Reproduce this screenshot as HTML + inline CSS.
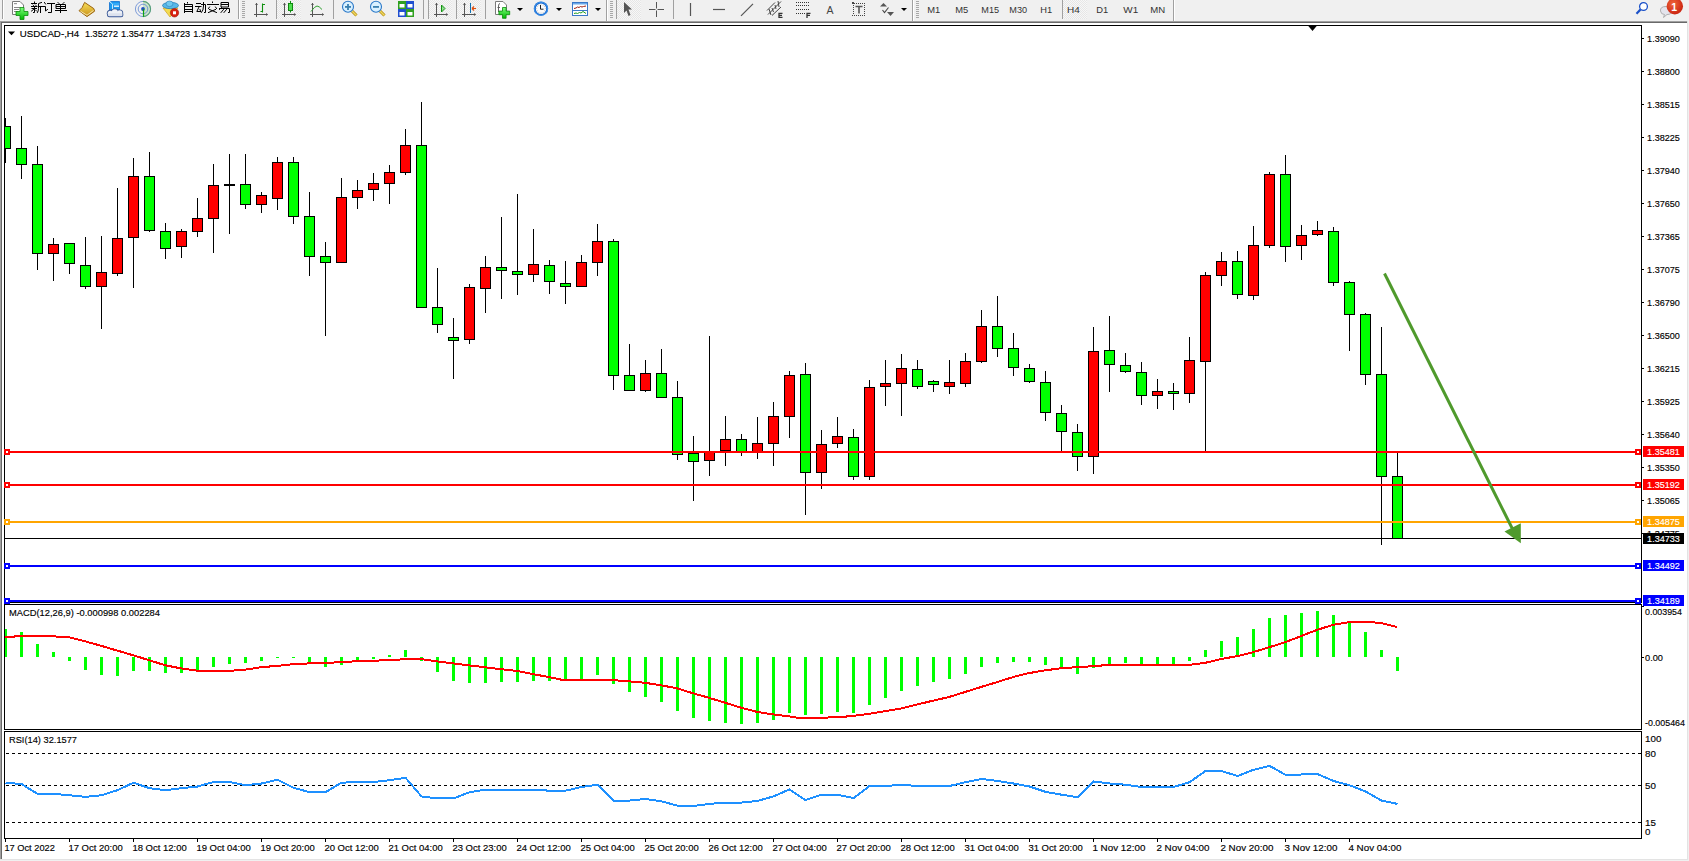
<!DOCTYPE html>
<html><head><meta charset="utf-8"><style>html,body{margin:0;padding:0;background:#f0f0f0;overflow:hidden}</style></head>
<body><svg width="1689" height="861" viewBox="0 0 1689 861" font-family="Liberation Sans, sans-serif" style="display:block">
<rect x="0" y="0" width="1689" height="861" fill="#f0f0f0"/>
<rect x="0" y="21" width="1688" height="839" fill="#ffffff"/>
<rect x="0" y="21" width="1688" height="1" fill="#a0a0a0"/>
<rect x="1" y="22" width="1686" height="1" fill="#696969"/>
<rect x="0" y="21" width="1" height="838" fill="#a0a0a0"/>
<rect x="1" y="22" width="1" height="837" fill="#696969"/>
<rect x="1687" y="21" width="1" height="839" fill="#e3e3e3"/>
<rect x="0" y="859" width="1688" height="1" fill="#e3e3e3"/>
<defs><pattern id="chk" width="2" height="2" patternUnits="userSpaceOnUse"><rect width="2" height="2" fill="#f7f7f7"/><rect width="1" height="1" fill="#e6e6e6"/><rect x="1" y="1" width="1" height="1" fill="#e6e6e6"/></pattern><linearGradient id="gold" x1="0" y1="0" x2="0" y2="1"><stop offset="0" stop-color="#f8df5a"/><stop offset="1" stop-color="#c8901a"/></linearGradient><linearGradient id="grn" x1="0" y1="0" x2="0" y2="1"><stop offset="0" stop-color="#7dff7d"/><stop offset="1" stop-color="#00b800"/></linearGradient><radialGradient id="badge" cx="0.4" cy="0.35" r="0.7"><stop offset="0" stop-color="#f0663a"/><stop offset="1" stop-color="#c8200e"/></radialGradient></defs>
<rect x="2" y="0" width="1" height="19" fill="#a0a0a0"/>
<rect x="3" y="0" width="1" height="19" fill="#ffffff"/>
<path d="M12.5,1.5 H20 L23.5,5 V14.5 H12.5 Z" fill="#fff" stroke="#7a7a7a" stroke-width="1"/>
<rect x="14" y="3" width="3" height="1.2" fill="#999"/><rect x="14" y="7" width="6" height="1" fill="#888"/><rect x="14" y="9" width="5" height="1" fill="#888"/><rect x="14" y="11" width="4" height="1" fill="#888"/>
<path d="M20,7.5 h4 v4 h4 v4 h-4 v4 h-4 v-4 h-4 v-4 h4 z" fill="url(#grn)" stroke="#0a8a0a" stroke-width="0.8"/>
<path d="M34.5,2 V2.5 M31.5,3.5 H36.5 M33,5 L33.5,5.5 M35.5,5 L36,5.5 M31.5,6.5 H37 M32,8.5 H36.5 M34.5,6.5 V12.5 L33.5,12.5 M33.5,9.5 L31.5,11 M35.5,10 L36.5,11 M41.5,2.5 L38.5,3.5 V8.5 Q38.5,11 37.5,12.5 M38.5,6.5 H42.5 M40.5,6.5 V12.5" fill="none" stroke="#000" stroke-width="1" stroke-linecap="square"/>
<path d="M44.5,2.5 L45.5,4 M43.5,6.5 H45.5 V11 L47.5,9.5 M47.5,3.5 H54.5 M51.5,3.5 V12.5 H48.5" fill="none" stroke="#000" stroke-width="1" stroke-linecap="square"/>
<path d="M58,2.5 L59,3.5 M64,2.5 L63,3.5 M56.5,4.5 H65.5 V8.5 H56.5 Z M56.5,6.5 H65.5 M60.5,4.5 V12.5 M55.5,10.5 H66.5" fill="none" stroke="#000" stroke-width="1" stroke-linecap="square"/>
<path d="M84.6,2.4 L93.8,8.6 L94.6,11.2 L87,16.6 L79,10.7 Q82.5,8.5 84.6,2.4 Z" fill="url(#gold)" stroke="#9a6410" stroke-width="1"/>
<path d="M80.5,11.2 L87,15.2 L93.5,10.5" fill="none" stroke="#f4e4a8" stroke-width="1"/>
<path d="M109.5,2.5 L111,1.5 H119.5 V10 H109.5 Z" fill="#1a9af0" stroke="#1070d0" stroke-width="0.8"/>
<path d="M110,2 L112.5,4 V10" fill="none" stroke="#d8f0ff" stroke-width="0.9"/><path d="M112.5,4 H119.5" stroke="#60c0ff" stroke-width="0.8"/>
<rect x="114" y="5.5" width="5" height="1.4" fill="#e8f6ff"/>
<circle cx="110.3" cy="13.3" r="3.5" fill="#3c5a98"/>
<circle cx="114.8" cy="12.4" r="4.0" fill="#3c5a98"/>
<circle cx="119.6" cy="13.0" r="3.6" fill="#3c5a98"/>
<rect x="107.1" y="12.6" width="16.3" height="4.6" rx="2.2" fill="#3c5a98"/>
<circle cx="110.3" cy="13.3" r="2.6" fill="#eef1f7"/>
<circle cx="114.8" cy="12.4" r="3.1" fill="#eef1f7"/>
<circle cx="119.6" cy="13.0" r="2.7" fill="#eef1f7"/>
<rect x="108" y="13.3" width="14.5" height="3" rx="1.4" fill="#dde2ee"/>
<path d="M143,9 V17 A8,8 0 0 0 151,9 A8,8 0 0 0 143,1 Z" fill="#9ad09a" opacity="0.45"/>
<circle cx="143" cy="9" r="7.6" fill="none" stroke="#5a82d0" stroke-width="1" opacity="0.75"/>
<circle cx="143" cy="9" r="4.8" fill="none" stroke="#4a78d0" stroke-width="1" opacity="0.7"/>
<path d="M143,1.4 A7.6,7.6 0 0 1 143,16.6" fill="none" stroke="#40a040" stroke-width="1.1" opacity="0.6"/>
<circle cx="143" cy="9" r="1.9" fill="#2050c0"/>
<path d="M143.5,9 V16.8" fill="none" stroke="#10a010" stroke-width="1.2"/>
<path d="M163,8 L170,17 L178,8 Z" fill="#f3dc50" stroke="#d0a020" stroke-width="0.7"/>
<ellipse cx="170.5" cy="5.5" rx="8" ry="3.2" fill="#58b8e8" stroke="#2a80b8" stroke-width="0.8"/>
<ellipse cx="169.5" cy="3.8" rx="3.5" ry="2.8" fill="#70c8f0" stroke="#2a80b8" stroke-width="0.6"/>
<circle cx="174.5" cy="12.8" r="4.2" fill="#d82010" stroke="#a01808" stroke-width="0.6"/>
<rect x="173" y="11.3" width="3" height="3" fill="#fff"/>
<path d="M187.5,2.5 V3 M184.5,4.5 H192.5 V12.5 M184.5,3.5 V12.5 M184.5,6.5 H192.5 M184.5,9.5 H192.5 M184.5,11.5 H192.5" fill="none" stroke="#000" stroke-width="1" stroke-linecap="square"/>
<path d="M196.5,3.5 H200.5 M195.5,6.5 H201 M199,7 L196.8,11.5 H200.5 M200,9.5 L200.5,11 M201.5,4.5 H205.5 V12.5 H204.5 M203.5,2.5 V6 Q203.5,10.5 201.5,12.5" fill="none" stroke="#000" stroke-width="1" stroke-linecap="square"/>
<path d="M212.5,2 V2.5 M207.5,4.5 H218.5 M209.5,7 L208.5,8.5 M215.5,7 L216.5,8.5 M209.5,9.5 L216.5,12.5 M215.5,9.5 L208.5,12.5" fill="none" stroke="#000" stroke-width="1" stroke-linecap="square"/>
<path d="M221.5,2.5 H228.5 V7 H221.5 Z M221.5,4.5 H228.5 M219.5,8.5 H229.5 V12.5 H228.5 M221.5,7.5 L219.5,9.5 M223.5,9.5 L221,12.5 M226.5,9.5 L224,12.5" fill="none" stroke="#000" stroke-width="1" stroke-linecap="square"/>
<rect x="238" y="0" width="1" height="19" fill="#a0a0a0"/>
<rect x="239" y="0" width="1" height="19" fill="#ffffff"/>
<rect x="242" y="1" width="3" height="1" fill="#a8a8a8"/>
<rect x="242" y="3" width="3" height="1" fill="#a8a8a8"/>
<rect x="242" y="5" width="3" height="1" fill="#a8a8a8"/>
<rect x="242" y="7" width="3" height="1" fill="#a8a8a8"/>
<rect x="242" y="9" width="3" height="1" fill="#a8a8a8"/>
<rect x="242" y="11" width="3" height="1" fill="#a8a8a8"/>
<rect x="242" y="13" width="3" height="1" fill="#a8a8a8"/>
<rect x="242" y="15" width="3" height="1" fill="#a8a8a8"/>
<rect x="242" y="17" width="3" height="1" fill="#a8a8a8"/>
<path d="M256.5,3 V17 M254,14.5 H267.5" stroke="#555" stroke-width="1" fill="none"/>
<polygon points="255,5 256.5,3 258,5" fill="#555"/>
<polygon points="266,13 268,14.5 266,16" fill="#555"/>
<path d="M260.5,11.5 H262.5 V4.5 H265" stroke="#109010" stroke-width="1.1" fill="none"/><path d="M262.5,3.5 V12.5" stroke="#109010" stroke-width="1"/>
<rect x="276" y="0" width="1" height="19" fill="#a0a0a0"/>
<rect x="277" y="0" width="1" height="19" fill="#ffffff"/>
<rect x="277" y="0" width="24" height="19" fill="url(#chk)"/>
<path d="M284.5,3 V17 M282,14.5 H295.5" stroke="#555" stroke-width="1" fill="none"/>
<polygon points="283,5 284.5,3 286,5" fill="#555"/>
<polygon points="294,13 296,14.5 294,16" fill="#555"/>
<path d="M290.5,1 V12.5" stroke="#109010" stroke-width="1"/><rect x="288.5" y="3.5" width="4" height="7" fill="#50e050" stroke="#108810" stroke-width="1"/>
<path d="M312.5,3 V17 M310,14.5 H323.5" stroke="#555" stroke-width="1" fill="none"/>
<polygon points="311,5 312.5,3 314,5" fill="#555"/>
<polygon points="322,13 324,14.5 322,16" fill="#555"/>
<path d="M311,11.5 Q315,6 317,6 Q319,6 322,9.5" stroke="#30a030" stroke-width="1" fill="none"/>
<rect x="333" y="0" width="1" height="19" fill="#a0a0a0"/>
<path d="M352,11 L356.5,15.5" stroke="#b08808" stroke-width="3"/><path d="M352,11 L356.5,15.5" stroke="#f0d860" stroke-width="1.6"/>
<circle cx="348" cy="6.8" r="5.5" fill="#d8f0ff" stroke="#2a78c8" stroke-width="1.1"/>
<rect x="345" y="6" width="6" height="1.8" fill="#3a80b0"/>
<rect x="347.1" y="4" width="1.8" height="6" fill="#3a80b0"/>
<path d="M380,11 L384.5,15.5" stroke="#b08808" stroke-width="3"/><path d="M380,11 L384.5,15.5" stroke="#f0d860" stroke-width="1.6"/>
<circle cx="376" cy="6.8" r="5.5" fill="#d8f0ff" stroke="#2a78c8" stroke-width="1.1"/>
<rect x="373" y="6" width="6" height="1.8" fill="#3a80b0"/>
<rect x="398" y="1" width="8" height="8" fill="#30a020"/>
<rect x="399.5" y="4" width="5" height="3.5" fill="#fff"/>
<rect x="406" y="1" width="8" height="8" fill="#2050d0"/>
<rect x="407.5" y="4" width="5" height="3.5" fill="#fff"/>
<rect x="398" y="9" width="8" height="8" fill="#2050d0"/>
<rect x="399.5" y="12" width="5" height="3.5" fill="#fff"/>
<rect x="406" y="9" width="8" height="8" fill="#30a020"/>
<rect x="407.5" y="12" width="5" height="3.5" fill="#fff"/>
<rect x="423" y="0" width="1" height="19" fill="#a0a0a0"/>
<rect x="428" y="0" width="1" height="19" fill="#a0a0a0"/>
<rect x="429" y="0" width="23" height="19" fill="url(#chk)"/>
<path d="M436.5,3 V17 M434,14.5 H447.5" stroke="#555" stroke-width="1" fill="none"/>
<polygon points="435,5 436.5,3 438,5" fill="#555"/>
<polygon points="446,13 448,14.5 446,16" fill="#555"/>
<polygon points="441.5,5 445,8.5 441.5,12" fill="#90e090" stroke="#109010" stroke-width="1"/>
<rect x="456" y="0" width="1" height="19" fill="#a0a0a0"/>
<rect x="457" y="0" width="24" height="19" fill="url(#chk)"/>
<path d="M464.5,3 V17 M462,14.5 H475.5" stroke="#555" stroke-width="1" fill="none"/>
<polygon points="463,5 464.5,3 466,5" fill="#555"/>
<polygon points="474,13 476,14.5 474,16" fill="#555"/>
<path d="M470.5,3 V13" stroke="#1070b0" stroke-width="1"/><path d="M472,8.5 H476 M472,8.5 L474,6.5 M472,8.5 L474,10.5" stroke="#e05010" stroke-width="1.2"/>
<rect x="485" y="0" width="1" height="19" fill="#a0a0a0"/>
<path d="M495.5,1.5 H503 L506.5,5 V14.5 H495.5 Z" fill="#fff" stroke="#7a7a7a" stroke-width="1"/>
<path d="M500,3.5 Q498.5,3.5 498.5,6 V12 M497.5,7.5 H500" stroke="#555" stroke-width="0.9" fill="none"/>
<path d="M502.5,7.5 h3.6 v3.6 h3.6 v3.6 h-3.6 v3.6 h-3.6 v-3.6 h-3.6 v-3.6 h3.6 z" fill="url(#grn)" stroke="#0a8a0a" stroke-width="0.8"/>
<polygon points="517,8 523,8 520,11" fill="#000"/>
<circle cx="541" cy="8.7" r="7.2" fill="#1a6ad0"/><circle cx="541" cy="8.7" r="6.6" fill="none" stroke="#4aa0f0" stroke-width="0.8"/><circle cx="541" cy="8.7" r="5.2" fill="#fafafa"/>
<circle cx="545.20" cy="8.70" r="0.35" fill="#777"/><circle cx="544.64" cy="10.80" r="0.35" fill="#777"/><circle cx="543.10" cy="12.34" r="0.35" fill="#777"/><circle cx="541.00" cy="12.90" r="0.35" fill="#777"/><circle cx="538.90" cy="12.34" r="0.35" fill="#777"/><circle cx="537.36" cy="10.80" r="0.35" fill="#777"/><circle cx="536.80" cy="8.70" r="0.35" fill="#777"/><circle cx="537.36" cy="6.60" r="0.35" fill="#777"/><circle cx="538.90" cy="5.06" r="0.35" fill="#777"/><circle cx="541.00" cy="4.50" r="0.35" fill="#777"/><circle cx="543.10" cy="5.06" r="0.35" fill="#777"/><circle cx="544.64" cy="6.60" r="0.35" fill="#777"/>
<path d="M540.5,5 V9.2 H543.5" stroke="#222" stroke-width="1" fill="none"/>
<polygon points="556,8 562,8 559,11" fill="#000"/>
<rect x="572.5" y="2.5" width="15" height="13" fill="#fff" stroke="#3a78c8" stroke-width="1"/><rect x="573" y="3" width="14" height="1.5" fill="#6aa8e8"/><rect x="573" y="10" width="14" height="1" fill="#3a78c8"/>
<path d="M574,8.5 L576,8 L577.5,7 L579,7.5 L580.5,6.5 L582,7 L583.5,6.5 L586,6" stroke="#a02010" stroke-width="1" fill="none"/><path d="M574,13.5 L576,13 L577.5,13.5 L579.5,12.5 L581,13 L583,11.5 L586,13.5" stroke="#20a020" stroke-width="1" fill="none"/>
<polygon points="595,8 601,8 598,11" fill="#000"/>
<rect x="606" y="0" width="1" height="21" fill="#a0a0a0"/><rect x="607" y="0" width="1" height="21" fill="#fff"/>
<rect x="610" y="1" width="3" height="1" fill="#a8a8a8"/>
<rect x="610" y="3" width="3" height="1" fill="#a8a8a8"/>
<rect x="610" y="5" width="3" height="1" fill="#a8a8a8"/>
<rect x="610" y="7" width="3" height="1" fill="#a8a8a8"/>
<rect x="610" y="9" width="3" height="1" fill="#a8a8a8"/>
<rect x="610" y="11" width="3" height="1" fill="#a8a8a8"/>
<rect x="610" y="13" width="3" height="1" fill="#a8a8a8"/>
<rect x="610" y="15" width="3" height="1" fill="#a8a8a8"/>
<rect x="610" y="17" width="3" height="1" fill="#a8a8a8"/>
<rect x="616" y="0" width="1" height="19" fill="#a0a0a0"/>
<rect x="617" y="0" width="24" height="19" fill="url(#chk)"/>
<polygon points="624,2 632,9.5 628.5,9.5 630.5,15 628.5,16 626.5,10.5 624,13" fill="#555"/>
<path d="M656.5,2 V8.5 M656.5,10.5 V17 M649,9.5 H655.5 M657.5,9.5 H664" stroke="#555" stroke-width="1"/>
<rect x="673" y="0" width="1" height="19" fill="#a0a0a0"/>
<path d="M690.5,3 V16" stroke="#555" stroke-width="1.2"/><path d="M713,9.5 H725" stroke="#555" stroke-width="1.2"/><path d="M741,15.8 L753,3.8" stroke="#555" stroke-width="1.2"/>
<path d="M767,10.5 L775,2.5 M768,14.5 L781,1.5 M772,15.5 L781,7" stroke="#444" stroke-width="1"/><path d="M769,9 L771,15 M772,8 L773.5,12 M775,5 L776,9 M778,1 L779,7" stroke="#444" stroke-width="1"/>
<path d="M782.5,13.3 H779 V17.3 H782.5 M779,15.3 H782" stroke="#333" stroke-width="1.3" fill="none"/>
<path d="M796,2.5 H809" stroke="#333" stroke-width="1" stroke-dasharray="1,1"/>
<path d="M796,5.5 H809" stroke="#333" stroke-width="1" stroke-dasharray="1,1"/>
<path d="M796,9.5 H809" stroke="#333" stroke-width="1" stroke-dasharray="1,1"/>
<path d="M796,13.5 H805" stroke="#333" stroke-width="1" stroke-dasharray="1,1"/>
<path d="M810.5,13.3 H807 V18 M807,15.3 H810" stroke="#333" stroke-width="1.3" fill="none"/>
<text x="826.5" y="14" font-size="10.5" fill="#444">A</text>
<rect x="852" y="3" width="1" height="1" fill="#444"/><rect x="852" y="15" width="1" height="1" fill="#444"/><rect x="854" y="3" width="1" height="1" fill="#444"/><rect x="854" y="15" width="1" height="1" fill="#444"/><rect x="856" y="3" width="1" height="1" fill="#444"/><rect x="856" y="15" width="1" height="1" fill="#444"/><rect x="858" y="3" width="1" height="1" fill="#444"/><rect x="858" y="15" width="1" height="1" fill="#444"/><rect x="860" y="3" width="1" height="1" fill="#444"/><rect x="860" y="15" width="1" height="1" fill="#444"/><rect x="862" y="3" width="1" height="1" fill="#444"/><rect x="862" y="15" width="1" height="1" fill="#444"/><rect x="864" y="3" width="1" height="1" fill="#444"/><rect x="864" y="15" width="1" height="1" fill="#444"/><rect x="853" y="5" width="1" height="1" fill="#444"/><rect x="864" y="5" width="1" height="1" fill="#444"/><rect x="853" y="7" width="1" height="1" fill="#444"/><rect x="864" y="7" width="1" height="1" fill="#444"/><rect x="853" y="9" width="1" height="1" fill="#444"/><rect x="864" y="9" width="1" height="1" fill="#444"/><rect x="853" y="11" width="1" height="1" fill="#444"/><rect x="864" y="11" width="1" height="1" fill="#444"/><rect x="853" y="13" width="1" height="1" fill="#444"/><rect x="864" y="13" width="1" height="1" fill="#444"/><rect x="852" y="2" width="2" height="2" fill="#444"/>
<path d="M855.5,6.5 H862.5 M859,6.5 V13.5" stroke="#555" stroke-width="1.6"/>
<polygon points="880,6.5 883.5,3 887,6.5" fill="#555"/><polygon points="887,12 890.5,16 894,12" fill="#555"/><path d="M882.5,10 L884.5,12.5 L888.5,7.5" stroke="#444" stroke-width="1.1" fill="none"/>
<polygon points="901,8 907,8 904,11" fill="#000"/>
<rect x="912" y="0" width="1" height="21" fill="#a0a0a0"/><rect x="913" y="0" width="1" height="21" fill="#fff"/>
<rect x="916" y="1" width="3" height="1" fill="#a8a8a8"/>
<rect x="916" y="3" width="3" height="1" fill="#a8a8a8"/>
<rect x="916" y="5" width="3" height="1" fill="#a8a8a8"/>
<rect x="916" y="7" width="3" height="1" fill="#a8a8a8"/>
<rect x="916" y="9" width="3" height="1" fill="#a8a8a8"/>
<rect x="916" y="11" width="3" height="1" fill="#a8a8a8"/>
<rect x="916" y="13" width="3" height="1" fill="#a8a8a8"/>
<rect x="916" y="15" width="3" height="1" fill="#a8a8a8"/>
<rect x="916" y="17" width="3" height="1" fill="#a8a8a8"/>
<rect x="1062" y="0" width="1" height="19" fill="#a0a0a0"/>
<rect x="1063" y="0" width="24" height="19" fill="url(#chk)"/>
<text x="927.2" y="13" font-size="9.4" fill="#333" textLength="13.0" lengthAdjust="spacingAndGlyphs">M1</text>
<text x="955.2" y="13" font-size="9.4" fill="#333" textLength="13.0" lengthAdjust="spacingAndGlyphs">M5</text>
<text x="981.3" y="13" font-size="9.4" fill="#333" textLength="17.8" lengthAdjust="spacingAndGlyphs">M15</text>
<text x="1009.3" y="13" font-size="9.4" fill="#333" textLength="17.8" lengthAdjust="spacingAndGlyphs">M30</text>
<text x="1040.2" y="13" font-size="9.4" fill="#333" textLength="11.9" lengthAdjust="spacingAndGlyphs">H1</text>
<text x="1067.1" y="13" font-size="9.4" fill="#333" textLength="12.8" lengthAdjust="spacingAndGlyphs">H4</text>
<text x="1096.2" y="13" font-size="9.4" fill="#333" textLength="11.9" lengthAdjust="spacingAndGlyphs">D1</text>
<text x="1123.3" y="13" font-size="9.4" fill="#333" textLength="14.9" lengthAdjust="spacingAndGlyphs">W1</text>
<text x="1150.2" y="13" font-size="9.4" fill="#333" textLength="14.9" lengthAdjust="spacingAndGlyphs">MN</text>
<rect x="1173" y="0" width="1" height="21" fill="#a0a0a0"/><rect x="1174" y="0" width="1" height="21" fill="#fff"/>
<circle cx="1643.5" cy="6.5" r="3.9" fill="#fff" stroke="#1a50c8" stroke-width="1.3"/><path d="M1640.5,9.5 L1636.5,13.8" stroke="#1a50c8" stroke-width="2.2"/>
<path d="M1666,6.5 Q1660,6.5 1660.5,11 Q1661,14.5 1664.5,14.5 L1663.5,17.5 L1667,14.5 Q1672,14.5 1672,10.5 Z" fill="#e4e4ec" stroke="#a8a8a8" stroke-width="0.9"/>
<circle cx="1674.8" cy="6.3" r="8.2" fill="url(#badge)"/>
<text x="1671.3" y="10.5" font-size="10.5" fill="#fff" font-weight="bold">1</text>
<rect x="4" y="25" width="1638" height="1" fill="#000"/>
<rect x="4" y="25" width="1" height="578" fill="#000"/>
<rect x="1641" y="25" width="1" height="578" fill="#000"/>
<rect x="4" y="602" width="1638" height="1" fill="#000"/>
<rect x="4" y="604" width="1638" height="1" fill="#000"/>
<rect x="4" y="604" width="1" height="126" fill="#000"/>
<rect x="1641" y="604" width="1" height="126" fill="#000"/>
<rect x="4" y="729" width="1638" height="1" fill="#000"/>
<rect x="4" y="731" width="1638" height="1" fill="#000"/>
<rect x="4" y="731" width="1" height="108" fill="#000"/>
<rect x="1641" y="731" width="1" height="108" fill="#000"/>
<rect x="4" y="838" width="1638" height="1" fill="#000"/>
<defs><clipPath id="cm"><rect x="5" y="26" width="1636" height="576"/></clipPath><clipPath id="cmacd"><rect x="5" y="605" width="1636" height="124"/></clipPath><clipPath id="crsi"><rect x="5" y="732" width="1636" height="106"/></clipPath></defs>
<g clip-path="url(#cm)">
<rect x="5" y="118" width="1" height="45" fill="#000"/>
<rect x="0.5" y="126.5" width="10" height="22" fill="#00ff00" stroke="#000" stroke-width="1"/>
<rect x="21" y="116" width="1" height="63" fill="#000"/>
<rect x="16.5" y="148.5" width="10" height="16" fill="#00ff00" stroke="#000" stroke-width="1"/>
<rect x="37" y="146" width="1" height="124" fill="#000"/>
<rect x="32.5" y="164.5" width="10" height="89" fill="#00ff00" stroke="#000" stroke-width="1"/>
<rect x="53" y="238" width="1" height="43" fill="#000"/>
<rect x="48.5" y="244.5" width="10" height="9" fill="#ff0000" stroke="#000" stroke-width="1"/>
<rect x="69" y="243" width="1" height="31" fill="#000"/>
<rect x="64.5" y="243.5" width="10" height="20" fill="#00ff00" stroke="#000" stroke-width="1"/>
<rect x="85" y="237" width="1" height="52" fill="#000"/>
<rect x="80.5" y="265.5" width="10" height="21" fill="#00ff00" stroke="#000" stroke-width="1"/>
<rect x="101" y="236" width="1" height="93" fill="#000"/>
<rect x="96.5" y="272.5" width="10" height="14" fill="#ff0000" stroke="#000" stroke-width="1"/>
<rect x="117" y="188" width="1" height="88" fill="#000"/>
<rect x="112.5" y="238.5" width="10" height="35" fill="#ff0000" stroke="#000" stroke-width="1"/>
<rect x="133" y="158" width="1" height="130" fill="#000"/>
<rect x="128.5" y="176.5" width="10" height="61" fill="#ff0000" stroke="#000" stroke-width="1"/>
<rect x="149" y="152" width="1" height="80" fill="#000"/>
<rect x="144.5" y="176.5" width="10" height="54" fill="#00ff00" stroke="#000" stroke-width="1"/>
<rect x="165" y="223" width="1" height="36" fill="#000"/>
<rect x="160.5" y="231.5" width="10" height="17" fill="#00ff00" stroke="#000" stroke-width="1"/>
<rect x="181" y="229" width="1" height="29" fill="#000"/>
<rect x="176.5" y="231.5" width="10" height="15" fill="#ff0000" stroke="#000" stroke-width="1"/>
<rect x="197" y="198" width="1" height="39" fill="#000"/>
<rect x="192.5" y="218.5" width="10" height="13" fill="#ff0000" stroke="#000" stroke-width="1"/>
<rect x="213" y="164" width="1" height="89" fill="#000"/>
<rect x="208.5" y="185.5" width="10" height="33" fill="#ff0000" stroke="#000" stroke-width="1"/>
<rect x="229" y="154" width="1" height="80" fill="#000"/>
<rect x="224" y="184" width="11" height="2" fill="#000"/>
<rect x="245" y="154" width="1" height="55" fill="#000"/>
<rect x="240.5" y="184.5" width="10" height="20" fill="#00ff00" stroke="#000" stroke-width="1"/>
<rect x="261" y="192" width="1" height="21" fill="#000"/>
<rect x="256.5" y="195.5" width="10" height="9" fill="#ff0000" stroke="#000" stroke-width="1"/>
<rect x="277" y="157" width="1" height="53" fill="#000"/>
<rect x="272.5" y="162.5" width="10" height="36" fill="#ff0000" stroke="#000" stroke-width="1"/>
<rect x="293" y="157" width="1" height="67" fill="#000"/>
<rect x="288.5" y="162.5" width="10" height="54" fill="#00ff00" stroke="#000" stroke-width="1"/>
<rect x="309" y="192" width="1" height="84" fill="#000"/>
<rect x="304.5" y="216.5" width="10" height="40" fill="#00ff00" stroke="#000" stroke-width="1"/>
<rect x="325" y="242" width="1" height="94" fill="#000"/>
<rect x="320.5" y="256.5" width="10" height="6" fill="#00ff00" stroke="#000" stroke-width="1"/>
<rect x="341" y="178" width="1" height="84" fill="#000"/>
<rect x="336.5" y="197.5" width="10" height="65" fill="#ff0000" stroke="#000" stroke-width="1"/>
<rect x="357" y="180" width="1" height="29" fill="#000"/>
<rect x="352.5" y="190.5" width="10" height="7" fill="#ff0000" stroke="#000" stroke-width="1"/>
<rect x="373" y="173" width="1" height="28" fill="#000"/>
<rect x="368.5" y="183.5" width="10" height="6" fill="#ff0000" stroke="#000" stroke-width="1"/>
<rect x="389" y="165" width="1" height="39" fill="#000"/>
<rect x="384.5" y="172.5" width="10" height="11" fill="#ff0000" stroke="#000" stroke-width="1"/>
<rect x="405" y="129" width="1" height="46" fill="#000"/>
<rect x="400.5" y="145.5" width="10" height="27" fill="#ff0000" stroke="#000" stroke-width="1"/>
<rect x="421" y="102" width="1" height="205" fill="#000"/>
<rect x="416.5" y="145.5" width="10" height="162" fill="#00ff00" stroke="#000" stroke-width="1"/>
<rect x="437" y="268" width="1" height="65" fill="#000"/>
<rect x="432.5" y="307.5" width="10" height="17" fill="#00ff00" stroke="#000" stroke-width="1"/>
<rect x="453" y="318" width="1" height="61" fill="#000"/>
<rect x="448.5" y="337.5" width="10" height="3" fill="#00ff00" stroke="#000" stroke-width="1"/>
<rect x="469" y="284" width="1" height="60" fill="#000"/>
<rect x="464.5" y="287.5" width="10" height="52" fill="#ff0000" stroke="#000" stroke-width="1"/>
<rect x="485" y="256" width="1" height="57" fill="#000"/>
<rect x="480.5" y="267.5" width="10" height="21" fill="#ff0000" stroke="#000" stroke-width="1"/>
<rect x="501" y="217" width="1" height="82" fill="#000"/>
<rect x="496.5" y="267.5" width="10" height="3" fill="#00ff00" stroke="#000" stroke-width="1"/>
<rect x="517" y="194" width="1" height="101" fill="#000"/>
<rect x="512.5" y="271.5" width="10" height="3" fill="#00ff00" stroke="#000" stroke-width="1"/>
<rect x="533" y="229" width="1" height="53" fill="#000"/>
<rect x="528.5" y="264.5" width="10" height="10" fill="#ff0000" stroke="#000" stroke-width="1"/>
<rect x="549" y="260" width="1" height="34" fill="#000"/>
<rect x="544.5" y="265.5" width="10" height="16" fill="#00ff00" stroke="#000" stroke-width="1"/>
<rect x="565" y="261" width="1" height="43" fill="#000"/>
<rect x="560.5" y="283.5" width="10" height="3" fill="#00ff00" stroke="#000" stroke-width="1"/>
<rect x="581" y="255" width="1" height="32" fill="#000"/>
<rect x="576.5" y="262.5" width="10" height="24" fill="#ff0000" stroke="#000" stroke-width="1"/>
<rect x="597" y="224" width="1" height="52" fill="#000"/>
<rect x="592.5" y="241.5" width="10" height="21" fill="#ff0000" stroke="#000" stroke-width="1"/>
<rect x="613" y="239" width="1" height="151" fill="#000"/>
<rect x="608.5" y="241.5" width="10" height="134" fill="#00ff00" stroke="#000" stroke-width="1"/>
<rect x="629" y="344" width="1" height="47" fill="#000"/>
<rect x="624.5" y="375.5" width="10" height="15" fill="#00ff00" stroke="#000" stroke-width="1"/>
<rect x="645" y="360" width="1" height="32" fill="#000"/>
<rect x="640.5" y="373.5" width="10" height="17" fill="#ff0000" stroke="#000" stroke-width="1"/>
<rect x="661" y="349" width="1" height="49" fill="#000"/>
<rect x="656.5" y="373.5" width="10" height="24" fill="#00ff00" stroke="#000" stroke-width="1"/>
<rect x="677" y="381" width="1" height="79" fill="#000"/>
<rect x="672.5" y="397.5" width="10" height="57" fill="#00ff00" stroke="#000" stroke-width="1"/>
<rect x="693" y="436" width="1" height="65" fill="#000"/>
<rect x="688.5" y="453.5" width="10" height="8" fill="#00ff00" stroke="#000" stroke-width="1"/>
<rect x="709" y="336" width="1" height="140" fill="#000"/>
<rect x="704.5" y="451.5" width="10" height="9" fill="#ff0000" stroke="#000" stroke-width="1"/>
<rect x="725" y="416" width="1" height="50" fill="#000"/>
<rect x="720.5" y="439.5" width="10" height="11" fill="#ff0000" stroke="#000" stroke-width="1"/>
<rect x="741" y="434" width="1" height="22" fill="#000"/>
<rect x="736.5" y="439.5" width="10" height="12" fill="#00ff00" stroke="#000" stroke-width="1"/>
<rect x="757" y="417" width="1" height="42" fill="#000"/>
<rect x="752.5" y="443.5" width="10" height="8" fill="#ff0000" stroke="#000" stroke-width="1"/>
<rect x="773" y="402" width="1" height="64" fill="#000"/>
<rect x="768.5" y="416.5" width="10" height="27" fill="#ff0000" stroke="#000" stroke-width="1"/>
<rect x="789" y="371" width="1" height="67" fill="#000"/>
<rect x="784.5" y="375.5" width="10" height="41" fill="#ff0000" stroke="#000" stroke-width="1"/>
<rect x="805" y="363" width="1" height="152" fill="#000"/>
<rect x="800.5" y="374.5" width="10" height="98" fill="#00ff00" stroke="#000" stroke-width="1"/>
<rect x="821" y="430" width="1" height="59" fill="#000"/>
<rect x="816.5" y="444.5" width="10" height="28" fill="#ff0000" stroke="#000" stroke-width="1"/>
<rect x="837" y="417" width="1" height="31" fill="#000"/>
<rect x="832.5" y="436.5" width="10" height="7" fill="#ff0000" stroke="#000" stroke-width="1"/>
<rect x="853" y="429" width="1" height="51" fill="#000"/>
<rect x="848.5" y="437.5" width="10" height="39" fill="#00ff00" stroke="#000" stroke-width="1"/>
<rect x="869" y="380" width="1" height="100" fill="#000"/>
<rect x="864.5" y="387.5" width="10" height="89" fill="#ff0000" stroke="#000" stroke-width="1"/>
<rect x="885" y="360" width="1" height="46" fill="#000"/>
<rect x="880.5" y="383.5" width="10" height="3" fill="#ff0000" stroke="#000" stroke-width="1"/>
<rect x="901" y="354" width="1" height="62" fill="#000"/>
<rect x="896.5" y="368.5" width="10" height="15" fill="#ff0000" stroke="#000" stroke-width="1"/>
<rect x="917" y="360" width="1" height="29" fill="#000"/>
<rect x="912.5" y="369.5" width="10" height="17" fill="#00ff00" stroke="#000" stroke-width="1"/>
<rect x="933" y="380" width="1" height="12" fill="#000"/>
<rect x="928.5" y="381.5" width="10" height="3" fill="#00ff00" stroke="#000" stroke-width="1"/>
<rect x="949" y="360" width="1" height="34" fill="#000"/>
<rect x="944.5" y="382.5" width="10" height="4" fill="#ff0000" stroke="#000" stroke-width="1"/>
<rect x="965" y="353" width="1" height="34" fill="#000"/>
<rect x="960.5" y="361.5" width="10" height="22" fill="#ff0000" stroke="#000" stroke-width="1"/>
<rect x="981" y="310" width="1" height="53" fill="#000"/>
<rect x="976.5" y="326.5" width="10" height="35" fill="#ff0000" stroke="#000" stroke-width="1"/>
<rect x="997" y="296" width="1" height="61" fill="#000"/>
<rect x="992.5" y="326.5" width="10" height="22" fill="#00ff00" stroke="#000" stroke-width="1"/>
<rect x="1013" y="333" width="1" height="43" fill="#000"/>
<rect x="1008.5" y="348.5" width="10" height="19" fill="#00ff00" stroke="#000" stroke-width="1"/>
<rect x="1029" y="364" width="1" height="19" fill="#000"/>
<rect x="1024.5" y="368.5" width="10" height="13" fill="#00ff00" stroke="#000" stroke-width="1"/>
<rect x="1045" y="371" width="1" height="50" fill="#000"/>
<rect x="1040.5" y="382.5" width="10" height="30" fill="#00ff00" stroke="#000" stroke-width="1"/>
<rect x="1061" y="405" width="1" height="46" fill="#000"/>
<rect x="1056.5" y="413.5" width="10" height="18" fill="#00ff00" stroke="#000" stroke-width="1"/>
<rect x="1077" y="424" width="1" height="47" fill="#000"/>
<rect x="1072.5" y="432.5" width="10" height="24" fill="#00ff00" stroke="#000" stroke-width="1"/>
<rect x="1093" y="327" width="1" height="147" fill="#000"/>
<rect x="1088.5" y="351.5" width="10" height="105" fill="#ff0000" stroke="#000" stroke-width="1"/>
<rect x="1109" y="316" width="1" height="76" fill="#000"/>
<rect x="1104.5" y="350.5" width="10" height="14" fill="#00ff00" stroke="#000" stroke-width="1"/>
<rect x="1125" y="353" width="1" height="20" fill="#000"/>
<rect x="1120.5" y="365.5" width="10" height="6" fill="#00ff00" stroke="#000" stroke-width="1"/>
<rect x="1141" y="362" width="1" height="43" fill="#000"/>
<rect x="1136.5" y="372.5" width="10" height="23" fill="#00ff00" stroke="#000" stroke-width="1"/>
<rect x="1157" y="379" width="1" height="30" fill="#000"/>
<rect x="1152.5" y="391.5" width="10" height="4" fill="#ff0000" stroke="#000" stroke-width="1"/>
<rect x="1173" y="383" width="1" height="27" fill="#000"/>
<rect x="1168.5" y="391.5" width="10" height="2" fill="#00ff00" stroke="#000" stroke-width="1"/>
<rect x="1189" y="337" width="1" height="66" fill="#000"/>
<rect x="1184.5" y="360.5" width="10" height="33" fill="#ff0000" stroke="#000" stroke-width="1"/>
<rect x="1205" y="272" width="1" height="181" fill="#000"/>
<rect x="1200.5" y="275.5" width="10" height="86" fill="#ff0000" stroke="#000" stroke-width="1"/>
<rect x="1221" y="252" width="1" height="34" fill="#000"/>
<rect x="1216.5" y="261.5" width="10" height="14" fill="#ff0000" stroke="#000" stroke-width="1"/>
<rect x="1237" y="251" width="1" height="48" fill="#000"/>
<rect x="1232.5" y="261.5" width="10" height="33" fill="#00ff00" stroke="#000" stroke-width="1"/>
<rect x="1253" y="226" width="1" height="74" fill="#000"/>
<rect x="1248.5" y="245.5" width="10" height="50" fill="#ff0000" stroke="#000" stroke-width="1"/>
<rect x="1269" y="172" width="1" height="76" fill="#000"/>
<rect x="1264.5" y="174.5" width="10" height="71" fill="#ff0000" stroke="#000" stroke-width="1"/>
<rect x="1285" y="155" width="1" height="107" fill="#000"/>
<rect x="1280.5" y="174.5" width="10" height="72" fill="#00ff00" stroke="#000" stroke-width="1"/>
<rect x="1301" y="225" width="1" height="35" fill="#000"/>
<rect x="1296.5" y="235.5" width="10" height="10" fill="#ff0000" stroke="#000" stroke-width="1"/>
<rect x="1317" y="221" width="1" height="15" fill="#000"/>
<rect x="1312.5" y="230.5" width="10" height="4" fill="#ff0000" stroke="#000" stroke-width="1"/>
<rect x="1333" y="227" width="1" height="59" fill="#000"/>
<rect x="1328.5" y="231.5" width="10" height="51" fill="#00ff00" stroke="#000" stroke-width="1"/>
<rect x="1349" y="281" width="1" height="70" fill="#000"/>
<rect x="1344.5" y="282.5" width="10" height="32" fill="#00ff00" stroke="#000" stroke-width="1"/>
<rect x="1365" y="313" width="1" height="72" fill="#000"/>
<rect x="1360.5" y="314.5" width="10" height="60" fill="#00ff00" stroke="#000" stroke-width="1"/>
<rect x="1381" y="327" width="1" height="218" fill="#000"/>
<rect x="1376.5" y="374.5" width="10" height="102" fill="#00ff00" stroke="#000" stroke-width="1"/>
<rect x="1397" y="453" width="1" height="86" fill="#000"/>
<rect x="1392.5" y="476.5" width="10" height="62" fill="#00ff00" stroke="#000" stroke-width="1"/>
</g>
<rect x="5" y="451" width="1636" height="2" fill="#ff0000"/>
<rect x="4" y="449" width="6" height="6" fill="#ff0000"/>
<rect x="6" y="451" width="2" height="2" fill="#fff"/>
<rect x="1635" y="449" width="6" height="6" fill="#ff0000"/>
<rect x="1637" y="451" width="2" height="2" fill="#fff"/>
<rect x="5" y="484" width="1636" height="2" fill="#ff0000"/>
<rect x="4" y="482" width="6" height="6" fill="#ff0000"/>
<rect x="6" y="484" width="2" height="2" fill="#fff"/>
<rect x="1635" y="482" width="6" height="6" fill="#ff0000"/>
<rect x="1637" y="484" width="2" height="2" fill="#fff"/>
<rect x="5" y="521" width="1636" height="2" fill="#ffa500"/>
<rect x="4" y="519" width="6" height="6" fill="#ffa500"/>
<rect x="6" y="521" width="2" height="2" fill="#fff"/>
<rect x="1635" y="519" width="6" height="6" fill="#ffa500"/>
<rect x="1637" y="521" width="2" height="2" fill="#fff"/>
<rect x="5" y="538" width="1636" height="1" fill="#000"/>
<rect x="5" y="565" width="1636" height="2" fill="#0000ff"/>
<rect x="4" y="563" width="6" height="6" fill="#0000ff"/>
<rect x="6" y="565" width="2" height="2" fill="#fff"/>
<rect x="1635" y="563" width="6" height="6" fill="#0000ff"/>
<rect x="1637" y="565" width="2" height="2" fill="#fff"/>
<rect x="5" y="600" width="1636" height="2" fill="#0000ff"/>
<rect x="4" y="598" width="6" height="6" fill="#0000ff"/>
<rect x="6" y="600" width="2" height="2" fill="#fff"/>
<rect x="1635" y="598" width="6" height="6" fill="#0000ff"/>
<rect x="1637" y="600" width="2" height="2" fill="#fff"/>
<line x1="1384.5" y1="273.5" x2="1514" y2="532" stroke="#4f9a2c" stroke-width="3"/>
<polygon points="1504.5,531.5 1520.8,523.3 1520.8,543.3" fill="#4f9a2c"/>
<polygon points="1307.5,25 1317.5,25 1312.5,31" fill="#000"/>
<polygon points="8,31.5 15,31.5 11.5,35.3" fill="#000"/>
<text x="19.8" y="36.8" font-size="9.8" fill="#000" stroke="#000" stroke-width="0.15" textLength="59.5" lengthAdjust="spacingAndGlyphs" >USDCAD-,H4</text>
<text x="85.0" y="36.8" font-size="9.8" fill="#000" stroke="#000" stroke-width="0.15" textLength="33" lengthAdjust="spacingAndGlyphs" >1.35272</text>
<text x="121.07" y="36.8" font-size="9.8" fill="#000" stroke="#000" stroke-width="0.15" textLength="33" lengthAdjust="spacingAndGlyphs" >1.35477</text>
<text x="157.14" y="36.8" font-size="9.8" fill="#000" stroke="#000" stroke-width="0.15" textLength="33" lengthAdjust="spacingAndGlyphs" >1.34723</text>
<text x="193.21" y="36.8" font-size="9.8" fill="#000" stroke="#000" stroke-width="0.15" textLength="33" lengthAdjust="spacingAndGlyphs" >1.34733</text>
<rect x="1642" y="38" width="2" height="1" fill="#000"/>
<text x="1647.1" y="42" font-size="9.8" fill="#000" stroke="#000" stroke-width="0.15" textLength="32.8" lengthAdjust="spacingAndGlyphs" >1.39090</text>
<rect x="1642" y="71" width="2" height="1" fill="#000"/>
<text x="1647.1" y="75" font-size="9.8" fill="#000" stroke="#000" stroke-width="0.15" textLength="32.8" lengthAdjust="spacingAndGlyphs" >1.38800</text>
<rect x="1642" y="104" width="2" height="1" fill="#000"/>
<text x="1647.1" y="108" font-size="9.8" fill="#000" stroke="#000" stroke-width="0.15" textLength="32.8" lengthAdjust="spacingAndGlyphs" >1.38515</text>
<rect x="1642" y="137" width="2" height="1" fill="#000"/>
<text x="1647.1" y="141" font-size="9.8" fill="#000" stroke="#000" stroke-width="0.15" textLength="32.8" lengthAdjust="spacingAndGlyphs" >1.38225</text>
<rect x="1642" y="170" width="2" height="1" fill="#000"/>
<text x="1647.1" y="174" font-size="9.8" fill="#000" stroke="#000" stroke-width="0.15" textLength="32.8" lengthAdjust="spacingAndGlyphs" >1.37940</text>
<rect x="1642" y="203" width="2" height="1" fill="#000"/>
<text x="1647.1" y="207" font-size="9.8" fill="#000" stroke="#000" stroke-width="0.15" textLength="32.8" lengthAdjust="spacingAndGlyphs" >1.37650</text>
<rect x="1642" y="236" width="2" height="1" fill="#000"/>
<text x="1647.1" y="240" font-size="9.8" fill="#000" stroke="#000" stroke-width="0.15" textLength="32.8" lengthAdjust="spacingAndGlyphs" >1.37365</text>
<rect x="1642" y="269" width="2" height="1" fill="#000"/>
<text x="1647.1" y="273" font-size="9.8" fill="#000" stroke="#000" stroke-width="0.15" textLength="32.8" lengthAdjust="spacingAndGlyphs" >1.37075</text>
<rect x="1642" y="302" width="2" height="1" fill="#000"/>
<text x="1647.1" y="306" font-size="9.8" fill="#000" stroke="#000" stroke-width="0.15" textLength="32.8" lengthAdjust="spacingAndGlyphs" >1.36790</text>
<rect x="1642" y="335" width="2" height="1" fill="#000"/>
<text x="1647.1" y="339" font-size="9.8" fill="#000" stroke="#000" stroke-width="0.15" textLength="32.8" lengthAdjust="spacingAndGlyphs" >1.36500</text>
<rect x="1642" y="368" width="2" height="1" fill="#000"/>
<text x="1647.1" y="372" font-size="9.8" fill="#000" stroke="#000" stroke-width="0.15" textLength="32.8" lengthAdjust="spacingAndGlyphs" >1.36215</text>
<rect x="1642" y="401" width="2" height="1" fill="#000"/>
<text x="1647.1" y="405" font-size="9.8" fill="#000" stroke="#000" stroke-width="0.15" textLength="32.8" lengthAdjust="spacingAndGlyphs" >1.35925</text>
<rect x="1642" y="434" width="2" height="1" fill="#000"/>
<text x="1647.1" y="438" font-size="9.8" fill="#000" stroke="#000" stroke-width="0.15" textLength="32.8" lengthAdjust="spacingAndGlyphs" >1.35640</text>
<rect x="1642" y="467" width="2" height="1" fill="#000"/>
<text x="1647.1" y="471" font-size="9.8" fill="#000" stroke="#000" stroke-width="0.15" textLength="32.8" lengthAdjust="spacingAndGlyphs" >1.35350</text>
<rect x="1642" y="500" width="2" height="1" fill="#000"/>
<text x="1647.1" y="504" font-size="9.8" fill="#000" stroke="#000" stroke-width="0.15" textLength="32.8" lengthAdjust="spacingAndGlyphs" >1.35065</text>
<rect x="1642" y="533" width="2" height="1" fill="#000"/>
<text x="1647.1" y="537" font-size="9.8" fill="#000" stroke="#000" stroke-width="0.15" textLength="32.8" lengthAdjust="spacingAndGlyphs" >1.34775</text>
<rect x="1643" y="446" width="41" height="11" fill="#ff0000"/>
<text x="1647.1" y="455" font-size="9.8" fill="#fff" stroke="#fff" stroke-width="0.15" textLength="32.8" lengthAdjust="spacingAndGlyphs" >1.35481</text>
<rect x="1643" y="479" width="41" height="11" fill="#ff0000"/>
<text x="1647.1" y="488" font-size="9.8" fill="#fff" stroke="#fff" stroke-width="0.15" textLength="32.8" lengthAdjust="spacingAndGlyphs" >1.35192</text>
<rect x="1643" y="516" width="41" height="11" fill="#ffa500"/>
<text x="1647.1" y="525" font-size="9.8" fill="#fff" stroke="#fff" stroke-width="0.15" textLength="32.8" lengthAdjust="spacingAndGlyphs" >1.34875</text>
<rect x="1643" y="533" width="41" height="11" fill="#000000"/>
<text x="1647.1" y="542" font-size="9.8" fill="#fff" stroke="#fff" stroke-width="0.15" textLength="32.8" lengthAdjust="spacingAndGlyphs" >1.34733</text>
<rect x="1643" y="560" width="41" height="11" fill="#0000ff"/>
<text x="1647.1" y="569" font-size="9.8" fill="#fff" stroke="#fff" stroke-width="0.15" textLength="32.8" lengthAdjust="spacingAndGlyphs" >1.34492</text>
<rect x="1643" y="595" width="41" height="11" fill="#0000ff"/>
<text x="1647.1" y="604" font-size="9.8" fill="#fff" stroke="#fff" stroke-width="0.15" textLength="32.8" lengthAdjust="spacingAndGlyphs" >1.34189</text>
<text x="9" y="616" font-size="9.8" fill="#000" stroke="#000" stroke-width="0.15" textLength="151" lengthAdjust="spacingAndGlyphs" >MACD(12,26,9) -0.000998 0.002284</text>
<g clip-path="url(#cmacd)">
<rect x="4" y="629" width="3" height="28" fill="#00ff00"/>
<rect x="20" y="632" width="3" height="25" fill="#00ff00"/>
<rect x="36" y="644" width="3" height="13" fill="#00ff00"/>
<rect x="52" y="652" width="3" height="5" fill="#00ff00"/>
<rect x="68" y="657" width="3" height="4" fill="#00ff00"/>
<rect x="84" y="657" width="3" height="13" fill="#00ff00"/>
<rect x="100" y="657" width="3" height="18" fill="#00ff00"/>
<rect x="116" y="657" width="3" height="19" fill="#00ff00"/>
<rect x="132" y="657" width="3" height="14" fill="#00ff00"/>
<rect x="148" y="657" width="3" height="14" fill="#00ff00"/>
<rect x="164" y="657" width="3" height="16" fill="#00ff00"/>
<rect x="180" y="657" width="3" height="16" fill="#00ff00"/>
<rect x="196" y="657" width="3" height="14" fill="#00ff00"/>
<rect x="212" y="657" width="3" height="10" fill="#00ff00"/>
<rect x="228" y="657" width="3" height="7" fill="#00ff00"/>
<rect x="244" y="657" width="3" height="6" fill="#00ff00"/>
<rect x="260" y="657" width="3" height="4" fill="#00ff00"/>
<rect x="276" y="657" width="3" height="1" fill="#00ff00"/>
<rect x="292" y="657" width="3" height="1" fill="#00ff00"/>
<rect x="308" y="657" width="3" height="6" fill="#00ff00"/>
<rect x="324" y="657" width="3" height="10" fill="#00ff00"/>
<rect x="340" y="657" width="3" height="8" fill="#00ff00"/>
<rect x="356" y="657" width="3" height="4" fill="#00ff00"/>
<rect x="372" y="657" width="3" height="2" fill="#00ff00"/>
<rect x="388" y="655" width="3" height="2" fill="#00ff00"/>
<rect x="404" y="650" width="3" height="7" fill="#00ff00"/>
<rect x="420" y="657" width="3" height="4" fill="#00ff00"/>
<rect x="436" y="657" width="3" height="15" fill="#00ff00"/>
<rect x="452" y="657" width="3" height="24" fill="#00ff00"/>
<rect x="468" y="657" width="3" height="26" fill="#00ff00"/>
<rect x="484" y="657" width="3" height="26" fill="#00ff00"/>
<rect x="500" y="657" width="3" height="25" fill="#00ff00"/>
<rect x="516" y="657" width="3" height="25" fill="#00ff00"/>
<rect x="532" y="657" width="3" height="24" fill="#00ff00"/>
<rect x="548" y="657" width="3" height="24" fill="#00ff00"/>
<rect x="564" y="657" width="3" height="23" fill="#00ff00"/>
<rect x="580" y="657" width="3" height="22" fill="#00ff00"/>
<rect x="596" y="657" width="3" height="18" fill="#00ff00"/>
<rect x="612" y="657" width="3" height="27" fill="#00ff00"/>
<rect x="628" y="657" width="3" height="35" fill="#00ff00"/>
<rect x="644" y="657" width="3" height="40" fill="#00ff00"/>
<rect x="660" y="657" width="3" height="45" fill="#00ff00"/>
<rect x="676" y="657" width="3" height="54" fill="#00ff00"/>
<rect x="692" y="657" width="3" height="61" fill="#00ff00"/>
<rect x="708" y="657" width="3" height="64" fill="#00ff00"/>
<rect x="724" y="657" width="3" height="66" fill="#00ff00"/>
<rect x="740" y="657" width="3" height="67" fill="#00ff00"/>
<rect x="756" y="657" width="3" height="66" fill="#00ff00"/>
<rect x="772" y="657" width="3" height="63" fill="#00ff00"/>
<rect x="788" y="657" width="3" height="56" fill="#00ff00"/>
<rect x="804" y="657" width="3" height="58" fill="#00ff00"/>
<rect x="820" y="657" width="3" height="57" fill="#00ff00"/>
<rect x="836" y="657" width="3" height="55" fill="#00ff00"/>
<rect x="852" y="657" width="3" height="56" fill="#00ff00"/>
<rect x="868" y="657" width="3" height="48" fill="#00ff00"/>
<rect x="884" y="657" width="3" height="41" fill="#00ff00"/>
<rect x="900" y="657" width="3" height="34" fill="#00ff00"/>
<rect x="916" y="657" width="3" height="29" fill="#00ff00"/>
<rect x="932" y="657" width="3" height="25" fill="#00ff00"/>
<rect x="948" y="657" width="3" height="22" fill="#00ff00"/>
<rect x="964" y="657" width="3" height="17" fill="#00ff00"/>
<rect x="980" y="657" width="3" height="10" fill="#00ff00"/>
<rect x="996" y="657" width="3" height="6" fill="#00ff00"/>
<rect x="1012" y="657" width="3" height="5" fill="#00ff00"/>
<rect x="1028" y="657" width="3" height="5" fill="#00ff00"/>
<rect x="1044" y="657" width="3" height="8" fill="#00ff00"/>
<rect x="1060" y="657" width="3" height="11" fill="#00ff00"/>
<rect x="1076" y="657" width="3" height="17" fill="#00ff00"/>
<rect x="1092" y="657" width="3" height="11" fill="#00ff00"/>
<rect x="1108" y="657" width="3" height="8" fill="#00ff00"/>
<rect x="1124" y="657" width="3" height="6" fill="#00ff00"/>
<rect x="1140" y="657" width="3" height="7" fill="#00ff00"/>
<rect x="1156" y="657" width="3" height="7" fill="#00ff00"/>
<rect x="1172" y="657" width="3" height="7" fill="#00ff00"/>
<rect x="1188" y="657" width="3" height="4" fill="#00ff00"/>
<rect x="1204" y="650" width="3" height="7" fill="#00ff00"/>
<rect x="1220" y="641" width="3" height="16" fill="#00ff00"/>
<rect x="1236" y="637" width="3" height="20" fill="#00ff00"/>
<rect x="1252" y="629" width="3" height="28" fill="#00ff00"/>
<rect x="1268" y="618" width="3" height="39" fill="#00ff00"/>
<rect x="1284" y="615" width="3" height="42" fill="#00ff00"/>
<rect x="1300" y="613" width="3" height="44" fill="#00ff00"/>
<rect x="1316" y="611" width="3" height="46" fill="#00ff00"/>
<rect x="1332" y="615" width="3" height="42" fill="#00ff00"/>
<rect x="1348" y="621" width="3" height="36" fill="#00ff00"/>
<rect x="1364" y="632" width="3" height="25" fill="#00ff00"/>
<rect x="1380" y="650" width="3" height="7" fill="#00ff00"/>
<rect x="1396" y="657" width="3" height="14" fill="#00ff00"/>
<polyline points="5,636.8 21,636.3 37,636.3 53,636.3 69,637.3 85,641.3 101,645.8 117,650.5 133,655.2 149,660.2 165,665.2 181,668.4 197,670.6 213,670.9 229,670.9 245,669.7 261,667.2 277,665.9 293,664.2 309,663.4 325,662.9 341,662.2 357,661.2 373,660.7 389,660.2 405,659.2 421,659 437,661.4 453,663.4 469,665.4 485,667.2 501,669.2 517,670.9 533,674.1 549,677.1 561,679.6 613,680.1 629,681.3 645,682.8 661,685.3 677,688.3 693,693.3 709,697.8 725,702.7 741,707.7 757,711.9 773,714.4 789,716.4 798,717.9 837,717.4 853,715.9 869,713.9 885,711.2 901,708.5 917,704.5 933,700.7 949,697 965,692 981,687 997,682.1 1013,677.1 1029,673.1 1045,670.4 1061,668.2 1077,667.2 1093,666.2 1109,664.9 1189,664.9 1205,662.9 1221,659 1237,656.2 1253,652.2 1269,647.3 1285,642.3 1301,636.1 1317,629.9 1333,624.9 1349,622.1 1365,621.9 1374,622.4 1381,623.1 1397,626.9" fill="none" stroke="#ff0000" stroke-width="2" shape-rendering="crispEdges"/>
</g>
<rect x="1642" y="606" width="2" height="1" fill="#000"/>
<text x="1645" y="614.5" font-size="9.8" fill="#000" stroke="#000" stroke-width="0.15" textLength="37" lengthAdjust="spacingAndGlyphs" >0.003954</text>
<rect x="1642" y="657" width="2" height="1" fill="#000"/>
<text x="1645" y="661" font-size="9.8" fill="#000" stroke="#000" stroke-width="0.15" textLength="18" lengthAdjust="spacingAndGlyphs" >0.00</text>
<text x="1645" y="726" font-size="9.8" fill="#000" stroke="#000" stroke-width="0.15" textLength="40" lengthAdjust="spacingAndGlyphs" >-0.005464</text>
<text x="9" y="743" font-size="9.8" fill="#000" stroke="#000" stroke-width="0.15" textLength="68" lengthAdjust="spacingAndGlyphs" >RSI(14) 32.1577</text>
<line x1="6" y1="753.5" x2="1641" y2="753.5" stroke="#000" stroke-width="1" stroke-dasharray="3,3"/>
<line x1="6" y1="785.5" x2="1641" y2="785.5" stroke="#000" stroke-width="1" stroke-dasharray="3,3"/>
<line x1="6" y1="822.5" x2="1641" y2="822.5" stroke="#000" stroke-width="1" stroke-dasharray="3,3"/>
<g clip-path="url(#crsi)">
<polyline points="5.5,782.7 21.5,784 37.5,793.9 53.5,793.9 69.5,795.2 85.5,796.9 101.5,795.2 117.5,790.2 133.5,782.7 149.5,788.2 165.5,790.2 181.5,788.2 197.5,786.5 213.5,782 229.5,782 245.5,785.2 261.5,783.5 277.5,779.7 293.5,787.7 309.5,792.2 325.5,792.2 341.5,782.7 357.5,782 373.5,782 389.5,780.2 405.5,777.8 421.5,796.4 437.5,798.4 453.5,798.4 469.5,792.2 485.5,789.7 501.5,789.7 517.5,789.7 533.5,789.7 549.5,790.7 565.5,790.7 581.5,787 597.5,784.7 613.5,800.6 629.5,800.6 645.5,798.9 661.5,801.4 677.5,805.6 693.5,805.9 709.5,803.9 725.5,802.6 741.5,802.6 757.5,800.9 773.5,796.4 789.5,789.4 805.5,800.1 821.5,794.7 837.5,794.7 853.5,798.1 869.5,786 885.5,786 901.5,784.7 917.5,786 933.5,786 949.5,786 965.5,782.2 981.5,779 997.5,781 1013.5,783.5 1029.5,786.5 1045.5,791.9 1061.5,794.7 1077.5,797.2 1093.5,781.5 1109.5,783.5 1125.5,784.7 1141.5,787 1157.5,787 1173.5,787 1189.5,782.2 1205.5,771 1221.5,771 1237.5,776 1253.5,769.8 1269.5,765.8 1285.5,774.8 1301.5,774.5 1317.5,774 1333.5,781 1349.5,785.2 1365.5,791.4 1381.5,800.6 1397.5,803.9" fill="none" stroke="#1e90ff" stroke-width="2" shape-rendering="crispEdges"/>
</g>
<text x="1645" y="741.5" font-size="9.8" fill="#000" stroke="#000" stroke-width="0.15" >100</text>
<text x="1645" y="757" font-size="9.8" fill="#000" stroke="#000" stroke-width="0.15" >80</text>
<text x="1645" y="789" font-size="9.8" fill="#000" stroke="#000" stroke-width="0.15" >50</text>
<text x="1645" y="825.5" font-size="9.8" fill="#000" stroke="#000" stroke-width="0.15" >15</text>
<text x="1645" y="835" font-size="9.8" fill="#000" stroke="#000" stroke-width="0.15" >0</text>
<rect x="5" y="839" width="1" height="3" fill="#000"/>
<text x="4.4" y="851" font-size="9.8" fill="#000" stroke="#000" stroke-width="0.15" textLength="50.5" lengthAdjust="spacingAndGlyphs" >17 Oct 2022</text>
<rect x="69" y="839" width="1" height="3" fill="#000"/>
<text x="68.4" y="851" font-size="9.8" fill="#000" stroke="#000" stroke-width="0.15" textLength="54.3" lengthAdjust="spacingAndGlyphs" >17 Oct 20:00</text>
<rect x="133" y="839" width="1" height="3" fill="#000"/>
<text x="132.4" y="851" font-size="9.8" fill="#000" stroke="#000" stroke-width="0.15" textLength="54.3" lengthAdjust="spacingAndGlyphs" >18 Oct 12:00</text>
<rect x="197" y="839" width="1" height="3" fill="#000"/>
<text x="196.4" y="851" font-size="9.8" fill="#000" stroke="#000" stroke-width="0.15" textLength="54.3" lengthAdjust="spacingAndGlyphs" >19 Oct 04:00</text>
<rect x="261" y="839" width="1" height="3" fill="#000"/>
<text x="260.4" y="851" font-size="9.8" fill="#000" stroke="#000" stroke-width="0.15" textLength="54.3" lengthAdjust="spacingAndGlyphs" >19 Oct 20:00</text>
<rect x="325" y="839" width="1" height="3" fill="#000"/>
<text x="324.4" y="851" font-size="9.8" fill="#000" stroke="#000" stroke-width="0.15" textLength="54.3" lengthAdjust="spacingAndGlyphs" >20 Oct 12:00</text>
<rect x="389" y="839" width="1" height="3" fill="#000"/>
<text x="388.4" y="851" font-size="9.8" fill="#000" stroke="#000" stroke-width="0.15" textLength="54.3" lengthAdjust="spacingAndGlyphs" >21 Oct 04:00</text>
<rect x="453" y="839" width="1" height="3" fill="#000"/>
<text x="452.4" y="851" font-size="9.8" fill="#000" stroke="#000" stroke-width="0.15" textLength="54.3" lengthAdjust="spacingAndGlyphs" >23 Oct 23:00</text>
<rect x="517" y="839" width="1" height="3" fill="#000"/>
<text x="516.4" y="851" font-size="9.8" fill="#000" stroke="#000" stroke-width="0.15" textLength="54.3" lengthAdjust="spacingAndGlyphs" >24 Oct 12:00</text>
<rect x="581" y="839" width="1" height="3" fill="#000"/>
<text x="580.4" y="851" font-size="9.8" fill="#000" stroke="#000" stroke-width="0.15" textLength="54.3" lengthAdjust="spacingAndGlyphs" >25 Oct 04:00</text>
<rect x="645" y="839" width="1" height="3" fill="#000"/>
<text x="644.4" y="851" font-size="9.8" fill="#000" stroke="#000" stroke-width="0.15" textLength="54.3" lengthAdjust="spacingAndGlyphs" >25 Oct 20:00</text>
<rect x="709" y="839" width="1" height="3" fill="#000"/>
<text x="708.4" y="851" font-size="9.8" fill="#000" stroke="#000" stroke-width="0.15" textLength="54.3" lengthAdjust="spacingAndGlyphs" >26 Oct 12:00</text>
<rect x="773" y="839" width="1" height="3" fill="#000"/>
<text x="772.4" y="851" font-size="9.8" fill="#000" stroke="#000" stroke-width="0.15" textLength="54.3" lengthAdjust="spacingAndGlyphs" >27 Oct 04:00</text>
<rect x="837" y="839" width="1" height="3" fill="#000"/>
<text x="836.4" y="851" font-size="9.8" fill="#000" stroke="#000" stroke-width="0.15" textLength="54.3" lengthAdjust="spacingAndGlyphs" >27 Oct 20:00</text>
<rect x="901" y="839" width="1" height="3" fill="#000"/>
<text x="900.4" y="851" font-size="9.8" fill="#000" stroke="#000" stroke-width="0.15" textLength="54.3" lengthAdjust="spacingAndGlyphs" >28 Oct 12:00</text>
<rect x="965" y="839" width="1" height="3" fill="#000"/>
<text x="964.4" y="851" font-size="9.8" fill="#000" stroke="#000" stroke-width="0.15" textLength="54.3" lengthAdjust="spacingAndGlyphs" >31 Oct 04:00</text>
<rect x="1029" y="839" width="1" height="3" fill="#000"/>
<text x="1028.4" y="851" font-size="9.8" fill="#000" stroke="#000" stroke-width="0.15" textLength="54.3" lengthAdjust="spacingAndGlyphs" >31 Oct 20:00</text>
<rect x="1093" y="839" width="1" height="3" fill="#000"/>
<text x="1092.4" y="851" font-size="9.8" fill="#000" stroke="#000" stroke-width="0.15" textLength="53" lengthAdjust="spacingAndGlyphs" >1 Nov 12:00</text>
<rect x="1157" y="839" width="1" height="3" fill="#000"/>
<text x="1156.4" y="851" font-size="9.8" fill="#000" stroke="#000" stroke-width="0.15" textLength="53" lengthAdjust="spacingAndGlyphs" >2 Nov 04:00</text>
<rect x="1221" y="839" width="1" height="3" fill="#000"/>
<text x="1220.4" y="851" font-size="9.8" fill="#000" stroke="#000" stroke-width="0.15" textLength="53" lengthAdjust="spacingAndGlyphs" >2 Nov 20:00</text>
<rect x="1285" y="839" width="1" height="3" fill="#000"/>
<text x="1284.4" y="851" font-size="9.8" fill="#000" stroke="#000" stroke-width="0.15" textLength="53" lengthAdjust="spacingAndGlyphs" >3 Nov 12:00</text>
<rect x="1349" y="839" width="1" height="3" fill="#000"/>
<text x="1348.4" y="851" font-size="9.8" fill="#000" stroke="#000" stroke-width="0.15" textLength="53" lengthAdjust="spacingAndGlyphs" >4 Nov 04:00</text>
</svg></body></html>
